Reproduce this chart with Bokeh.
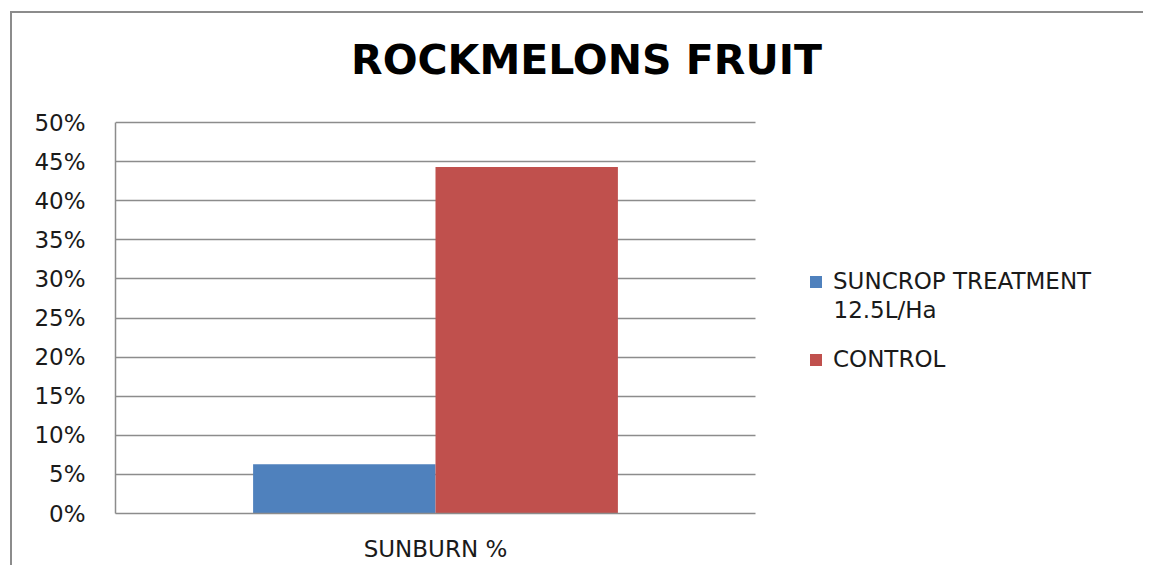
from bokeh.plotting import figure
from bokeh.models import (Range1d, FixedTicker, NumeralTickFormatter,
                          Legend, LegendItem, Label, ColumnDataSource)
from bokeh.transform import dodge
from bokeh.embed import file_html
from bokeh.resources import INLINE

# ---- data ----
categories = ["SUNBURN %"]
series_names = ["SUNCROP TREATMENT", "CONTROL"]
series_extra_line = "12.5L/Ha"
treatment = [0.063]
control = [0.443]
y_ticks = [0.0, 0.05, 0.10, 0.15, 0.20, 0.25, 0.30, 0.35, 0.40, 0.45, 0.50]
y_max = 0.5
title_text = "ROCKMELONS FRUIT"

colors = ["#4F81BD", "#C0504D"]
FONT = "DejaVu Sans"
GRAY = "#8c8c8c"
TXT = "#1a1a1a"

# ---- layout constants (pixels) ----
W, H = 1133, 554
BORDER_L, BORDER_B = 103, 54
FRAME_W = W - BORDER_L          # plotting frame spans to the right edge
FRAME_H = H - BORDER_B
PLOT_AREA_W, PLOT_AREA_H = 640, 391   # visible chart area inside the frame

cat_x = [i + 0.5 for i, _ in enumerate(categories)]
x_end = len(categories) * FRAME_W / PLOT_AREA_W
y_end = y_max * FRAME_H / PLOT_AREA_H

source = ColumnDataSource(data=dict(x=cat_x, treatment=treatment, control=control))

p = figure(width=W, height=H, x_range=Range1d(0, x_end), y_range=Range1d(0, y_end),
           output_backend="svg", toolbar_location=None,
           min_border_left=BORDER_L, min_border_right=0, min_border_top=0,
           min_border_bottom=BORDER_B)
p.background_fill_color = "white"
p.border_fill_color = "white"
p.outline_line_color = None
p.styles = {"margin-left": "12px", "margin-top": "13px",
            "box-shadow": "-2px -2px 0px 0px " + GRAY}

bw = 0.285
r1 = p.vbar(x=dodge("x", -0.1425), top="treatment", width=bw,
            source=source, fill_color=colors[0], line_color=None)
r2 = p.vbar(x=dodge("x", 0.1425), top="control", width=bw,
            source=source, fill_color=colors[1], line_color=None)

# axes
p.yaxis.ticker = FixedTicker(ticks=y_ticks)
p.yaxis.formatter = NumeralTickFormatter(format="0%")
p.yaxis.bounds = (0, y_max)
p.xaxis.ticker = FixedTicker(ticks=cat_x)
p.xaxis.major_label_overrides = {x: c for x, c in zip(cat_x, categories)}
p.xaxis.bounds = (0, len(categories))
for ax in (p.xaxis, p.yaxis):
    ax.axis_line_color = GRAY
    ax.axis_line_width = 1.5
    ax.major_tick_out = 0
    ax.major_tick_in = 0
    ax.minor_tick_out = 0
    ax.minor_tick_in = 0
    ax.major_label_text_font = FONT
    ax.major_label_text_font_size = "23px"
    ax.major_label_text_color = TXT
p.yaxis.major_label_standoff = 30
p.xaxis.major_label_standoff = 22

p.xgrid.grid_line_color = None
p.ygrid.grid_line_color = GRAY
p.ygrid.grid_line_width = 1.5
p.ygrid.cross_bounds = (0, len(categories))

# title (screen units: from frame bottom-left)
title = Label(x=471, y=454, x_units="screen", y_units="screen", text=title_text,
              text_font=FONT, text_font_style="bold", text_font_size="41px",
              text_align="center", text_baseline="alphabetic", text_color="#000000")
p.add_layout(title)

# legend
legend = Legend(items=[LegendItem(label=series_names[0], renderers=[r1]),
                       LegendItem(label=series_names[1], renderers=[r2])],
                location=(693, 140), padding=0, margin=0,
                border_line_color=None, background_fill_alpha=0,
                glyph_width=15, glyph_height=15, label_standoff=10,
                label_height=28, spacing=50,
                label_text_font=FONT, label_text_font_size="23px",
                label_text_color=TXT)
p.add_layout(legend)

extra = Label(x=718, y=204, x_units="screen", y_units="screen", text=series_extra_line,
              text_font=FONT, text_font_size="23px", text_color=TXT,
              text_align="left", text_baseline="alphabetic")
p.add_layout(extra)

open("out.html", "w").write(file_html(p, INLINE))
